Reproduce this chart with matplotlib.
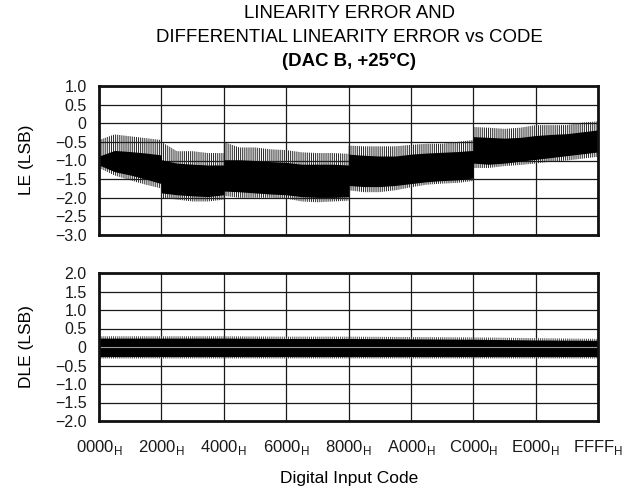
import matplotlib
matplotlib.use('Agg')
import matplotlib.pyplot as plt
import numpy as np

plt.rcParams['font.family'] = ['Liberation Sans', 'DejaVu Sans']
plt.rcParams['hatch.linewidth'] = 0.7

# LE band (codes, spike top, core top, core bottom, spike bottom)
le_code = [0x0000, 0x0800, 0x1000, 0x1800, 0x2000,
           0x2000, 0x2800, 0x3000, 0x3800, 0x4000,
           0x4000, 0x4800, 0x5000, 0x5800, 0x6000,
           0x6800, 0x7000, 0x7800, 0x8000,
           0x8000, 0x8800, 0x9000, 0x9800, 0xA000, 0xA800, 0xB000, 0xB800, 0xC000,
           0xC000, 0xC800, 0xD000, 0xD800, 0xE000, 0xE800, 0xF000, 0xF800, 0xFFFF]
le_hi = [-0.45, -0.30, -0.35, -0.40, -0.45,
         -0.50, -0.75, -0.75, -0.80, -0.80,
         -0.50, -0.65, -0.65, -0.70, -0.72,
         -0.78, -0.80, -0.80, -0.82,
         -0.60, -0.62, -0.62, -0.62, -0.58, -0.55, -0.55, -0.50, -0.45,
         -0.10, -0.12, -0.15, -0.12, -0.05, -0.05, -0.05, 0.02, 0.05]
le_top = [-0.88, -0.73, -0.76, -0.80, -0.85,
          -0.98, -1.07, -1.10, -1.12, -1.12,
          -0.98, -0.98, -1.00, -1.03, -1.05,
          -1.10, -1.10, -1.10, -1.12,
          -0.83, -0.86, -0.88, -0.88, -0.83, -0.80, -0.78, -0.76, -0.73,
          -0.36, -0.38, -0.40, -0.38, -0.33, -0.30, -0.28, -0.23, -0.18]
le_bot = [-1.12, -1.30, -1.39, -1.50, -1.62,
          -1.87, -1.92, -1.95, -1.97, -1.92,
          -1.82, -1.84, -1.87, -1.90, -1.92,
          -1.97, -1.99, -1.99, -1.97,
          -1.67, -1.70, -1.70, -1.67, -1.62, -1.57, -1.54, -1.52, -1.47,
          -1.07, -1.10, -1.07, -1.02, -0.97, -0.92, -0.87, -0.82, -0.77]
le_lo = [-1.20, -1.40, -1.53, -1.65, -1.75,
         -2.00, -2.05, -2.10, -2.10, -2.05,
         -1.95, -2.00, -2.00, -2.00, -2.02,
         -2.10, -2.12, -2.10, -2.08,
         -1.80, -1.85, -1.85, -1.80, -1.72, -1.65, -1.62, -1.60, -1.55,
         -1.20, -1.20, -1.15, -1.12, -1.08, -1.03, -1.00, -0.95, -0.90]

# DLE band
dle_code = [0x0000, 0x2000, 0x4000, 0x6000, 0x8000, 0xA000, 0xC000, 0xE000, 0xFFFF]
dle_hi = [0.29, 0.29, 0.29, 0.28, 0.28, 0.27, 0.26, 0.24, 0.22]
dle_top = [0.24, 0.24, 0.24, 0.23, 0.23, 0.22, 0.21, 0.19, 0.18]
dle_bot = [-0.26, -0.26, -0.26, -0.26, -0.26, -0.26, -0.26, -0.26, -0.26]
dle_lo = [-0.31, -0.31, -0.31, -0.31, -0.31, -0.31, -0.31, -0.31, -0.31]

x_ticks = [0x0000, 0x2000, 0x4000, 0x6000, 0x8000, 0xA000, 0xC000, 0xE000, 0xFFFF]
x_names = ['0000', '2000', '4000', '6000', '8000', 'A000', 'C000', 'E000', 'FFFF']
le_ticks = [1.0, 0.5, 0, -0.5, -1.0, -1.5, -2.0, -2.5, -3.0]
dle_ticks = [2.0, 1.5, 1.0, 0.5, 0, -0.5, -1.0, -1.5, -2.0]


def tick_text(v):
    if v == 0:
        return '0'
    return '{:.1f}'.format(v).replace('-', '\u2212')


fig = plt.figure(figsize=(6.42, 4.93), dpi=100)
ax1 = fig.add_axes([99/642, 1 - 235/493, 499/642, 149/493])
ax2 = fig.add_axes([99/642, 1 - 421/493, 499/642, 148/493])

# spiky fringe as a vertical hatch, solid core on top
ax1.fill_between(le_code, le_lo, le_hi, facecolor='none', edgecolor='#222222',
                 hatch='||||||||', lw=0, zorder=2)
ax1.fill_between(le_code, le_bot, le_top, color='black', lw=0, zorder=3)
ax1.set_ylim(-3.0, 1.0)
ax1.set_yticks(le_ticks)
ax1.set_yticklabels([tick_text(v) for v in le_ticks])

ax2.fill_between(dle_code, dle_lo, dle_hi, facecolor='none', edgecolor='#444444',
                 hatch='||||||||', lw=0, zorder=2)
ax2.fill_between(dle_code, dle_bot, dle_top, color='black', lw=0, zorder=3)
ax2.axhline(0, color='#9a9a9a', lw=0.8, zorder=4)
ax2.set_ylim(-2.0, 2.0)
ax2.set_yticks(dle_ticks)
ax2.set_yticklabels([tick_text(v) for v in dle_ticks])

for ax in (ax1, ax2):
    ax.set_xlim(0, 0xFFFF)
    ax.set_xticks(x_ticks)
    ax.grid(True, color='#1a1a1a', lw=0.9, zorder=1)
    ax.set_axisbelow(True)
    ax.tick_params(length=0, labelsize=11.5, pad=9, colors='#1a1a1a')
    for s in ax.spines.values():
        s.set_linewidth(2.0)
        s.set_color('#111111')
        s.set_zorder(5)

ax1.set_xticklabels([])
ax2.set_xticklabels([n + r'$_\mathregular{H}$' for n in x_names], fontsize=12)
ax2.tick_params(axis='x', pad=12)

fig.text(349/642, 1 - 13.5/493, 'LINEARITY ERROR AND', ha='center', va='center', fontsize=13.4)
fig.text(349/642, 1 - 38/493, 'DIFFERENTIAL LINEARITY ERROR vs CODE', ha='center', va='center', fontsize=13.4)
fig.text(349/642, 1 - 61/493, '(DAC B, +25\u00b0C)', ha='center', va='center', fontsize=13.4, fontweight='bold')

fig.text(26/642, 1 - 160/493, 'LE (LSB)', rotation=90, ha='center', va='center', fontsize=12.5)
fig.text(26/642, 1 - 347/493, 'DLE (LSB)', rotation=90, ha='center', va='center', fontsize=12.5)
fig.text(349/642, 1 - 478/493, 'Digital Input Code', ha='center', va='center', fontsize=12.5)

fig.savefig('out.png', dpi=100)
